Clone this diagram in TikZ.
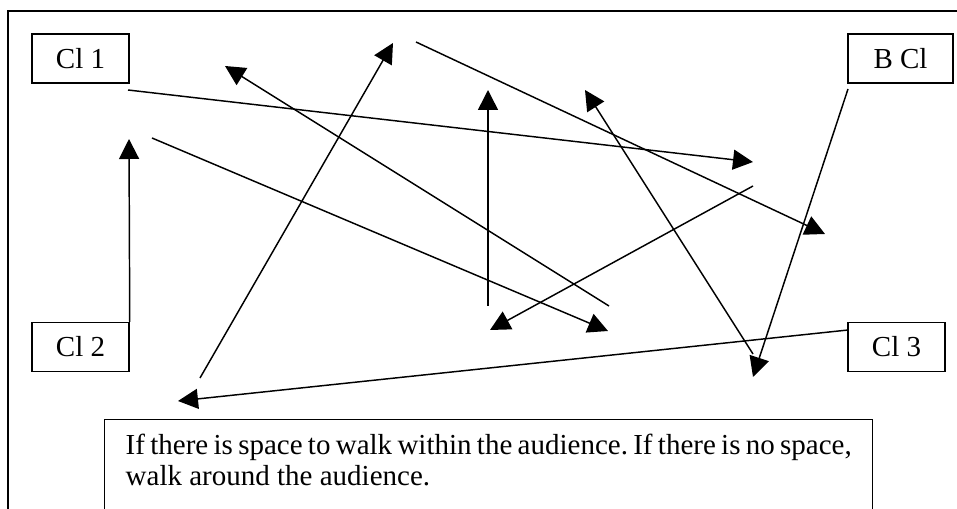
\documentclass[tikz,border=0pt]{standalone}
\usepackage{fontspec}
\setmainfont{Liberation Serif}
\usepackage{tikz}
\usetikzlibrary{arrows.meta,positioning}

\begin{document}
\begin{tikzpicture}[x=0.75pt,y=-0.75pt,line width=1.1pt,
    seat/.style={draw,inner sep=0pt,minimum width=72.75pt,minimum height=36.75pt,
      font=\fontsize{21.75}{23.25}\selectfont},
    walk/.style={-{Triangle[length=15pt,width=15pt]}}]
          \clip (0,0) rectangle (957,509);
          % Draw the frame
          \draw (970,11) -| (8,520);

          % Draw the seats
          \node[seat] (cl1) at (80.5,58.5) {Cl 1};
          \node[seat,minimum width=78.75pt] (bcl) at (900.5,58.5) {B Cl};
          \node[seat] (cl2) at (80.5,347) {Cl 2};
          \node[seat] (cl3) at (896.5,347) {Cl 3};

          % Draw the note
          \node[draw,anchor=north west,text width=544.5pt,align=justify,
            inner xsep=15.75pt,inner ysep=0pt,text height=26.25pt,text depth=100pt,
            font=\fontsize{21.75}{23.25}\selectfont\frenchspacing] (note) at (104,419)
            {If there is space to walk within the audience. If there is no space,\linebreak
             walk around the audience.};

          % Draw the path ends
          \coordinate (a1) at (128,90);  \coordinate (b1) at (753,162);
          \coordinate (a2) at (416,42);  \coordinate (b2) at (825,234);
          \coordinate (a3) at (200,378); \coordinate (b3) at (393,43);
          \coordinate (a4) at (609,306); \coordinate (b4) at (225,66);
          \coordinate (b5) at (129,139);
          \coordinate (a6) at (152,138); \coordinate (b6) at (608,331);
          \coordinate (a7) at (488,306); \coordinate (b7) at (488,90);
          \coordinate (a8) at (753,186); \coordinate (b8) at (490,330);
          \coordinate (a9) at (753,354); \coordinate (b9) at (585,90);
          \coordinate (a10) at (848,89); \coordinate (b10) at (753,377);
          \coordinate (a11) at (848,330); \coordinate (b11) at (178,401);

          % Draw the walks
          \draw[walk] (a1) -- (b1);
          \draw[walk] (a2) -- (b2);
          \draw[walk] (a3) -- (b3);
          \draw[walk] (a4) -- (b4);
          \draw[walk] (cl2.north east) -- (b5);
          \draw[walk] (a6) -- (b6);
          \draw[walk] (a7) -- (b7);
          \draw[walk] (a8) -- (b8);
          \draw[walk] (a9) -- (b9);
          \draw[walk] (a10) -- (b10);
          \draw[walk] (a11) -- (b11);

\end{tikzpicture}
\end{document}
